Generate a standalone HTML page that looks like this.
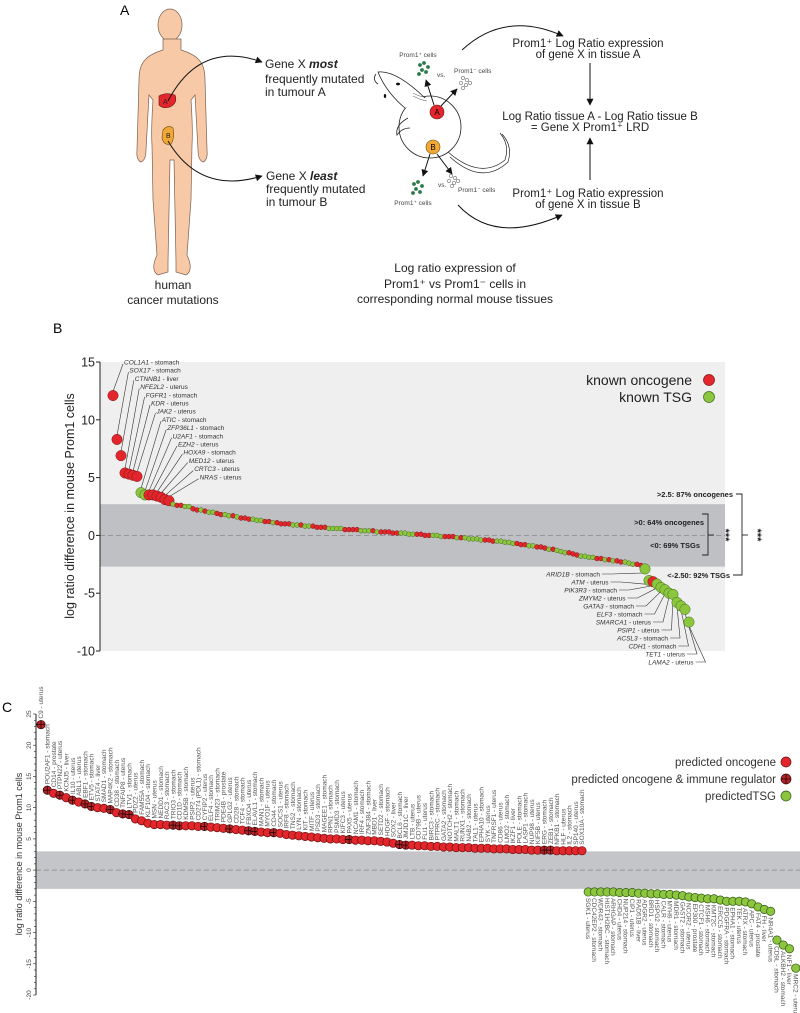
<!DOCTYPE html>
<html><head><meta charset="utf-8"><style>
html,body{margin:0;padding:0;background:#fff;width:800px;height:1013px;overflow:hidden}
svg{display:block;font-family:"Liberation Sans",Arial,sans-serif}
</style></head><body>
<svg id="fig" width="800" height="1013" viewBox="0 0 800 1013" xmlns="http://www.w3.org/2000/svg">
<defs>
<marker id="ah" viewBox="0 0 10 10" refX="9" refY="5" markerWidth="7" markerHeight="7" orient="auto"><path d="M0,0 L10,5 L0,10 z" fill="#111"/></marker>
</defs>
<g>
<text x="120" y="15" font-size="14">A</text>
<g>
<ellipse cx="170" cy="25" rx="12" ry="16" fill="#f7c9a6" stroke="#7a6050" stroke-width="0.7"/>
<path d="M163,39 L163,50 Q150,54 145,60 Q139,66 139,80 L137,150 Q136,160 141,162 Q146,160 146,150 L149,95 L153,100 Q151,130 152,145 L153,200 L157,255 Q150,270 158,275 L168,272 L168,262 L170,160 L174,160 L176,262 L176,272 L186,275 Q194,270 187,255 L191,200 L192,145 Q193,130 191,100 L195,95 L198,150 Q198,160 203,162 Q208,160 207,150 L205,80 Q205,66 199,60 Q194,54 181,50 L181,39 Z" fill="#f7c9a6" stroke="#7a6050" stroke-width="0.7"/>
<path d="M159,96 Q166,92 175,95 Q178,103 170,107 Q163,109 159,105 Z" fill="#e3262b" stroke="#6b1515" stroke-width="0.6"/>
<text x="163" y="104" font-size="7" fill="#222">A</text>
<path d="M163,130 Q168,124 173,128 Q175,138 171,144 Q164,146 162,138 Z" fill="#f1a834" stroke="#6b4a10" stroke-width="0.6"/>
<text x="166" y="138" font-size="7" fill="#222">B</text>
</g>
<path d="M168,101 Q200,40 262,62" fill="none" stroke="#111" stroke-width="1" marker-end="url(#ah)"/>
<path d="M168,141 Q200,195 262,176" fill="none" stroke="#111" stroke-width="1" marker-end="url(#ah)"/>
<g font-size="12" fill="#222">
<text x="265" y="68">Gene X <tspan font-weight="bold" font-style="italic">most</tspan></text>
<text x="265" y="83">frequently mutated</text>
<text x="265" y="96">in tumour A</text>
</g>
<g font-size="12" fill="#222">
<text x="266" y="180">Gene X <tspan font-weight="bold" font-style="italic">least</tspan></text>
<text x="266" y="193">frequently mutated</text>
<text x="266" y="206">in tumour B</text>
</g>
<g font-size="12" fill="#222" text-anchor="middle">
<text x="173" y="289">human</text>
<text x="173" y="304">cancer mutations</text>
</g>
<g fill="none" stroke="#222" stroke-width="0.8">
<circle cx="430" cy="127" r="31" fill="#fff"/>
<path d="M405,108 Q386,92 378,72 Q396,70 425,98" fill="#fff"/>
<path d="M376,74 Q372,80 378,84" />
<path d="M408,118 Q395,125 397,135 Q402,128 410,128"/>
<path d="M413,96 Q420,100 427,101 M413,93 Q420,97 426,97" stroke-width="0.4"/>
<path d="M448,152 Q480,180 505,160 Q510,145 500,133 M450,157 Q482,186 508,162 Q513,146 502,134" stroke-width="0.7"/>
<ellipse cx="398" cy="84" rx="2" ry="1.4" fill="#111" stroke="none"/>
<ellipse cx="385" cy="96" rx="1.2" ry="2" fill="#111" stroke="none"/>
</g>
<circle cx="437" cy="112" r="7" fill="#e3262b" stroke="#6b1515" stroke-width="0.6"/>
<text x="437" y="115" font-size="8" text-anchor="middle">A</text>
<circle cx="433" cy="147" r="7" fill="#f1a834" stroke="#6b4a10" stroke-width="0.6"/>
<text x="433" y="150" font-size="8" text-anchor="middle">B</text>
<g stroke="#111" stroke-width="1" marker-end="url(#ah)">
<line x1="434" y1="105" x2="426" y2="80"/><line x1="441" y1="106" x2="457" y2="89"/>
<line x1="430" y1="154" x2="423" y2="176"/><line x1="437" y1="154" x2="452" y2="174"/>
</g>
<g fill="#2a7a4a">
<circle cx="420" cy="65" r="1.9"/><circle cx="424" cy="63" r="1.9"/><circle cx="428" cy="67" r="1.9"/><circle cx="422" cy="70" r="1.9"/><circle cx="426" cy="72" r="1.9"/><circle cx="419" cy="74" r="1.9"/>
</g>
<g fill="#2a7a4a">
<circle cx="414" cy="184" r="1.9"/><circle cx="418" cy="182" r="1.9"/><circle cx="422" cy="186" r="1.9"/><circle cx="416" cy="189" r="1.9"/><circle cx="420" cy="192" r="1.9"/><circle cx="413" cy="193" r="1.9"/>
</g>
<g fill="#fff" stroke="#444" stroke-width="0.5">
<circle cx="463" cy="78" r="1.7"/><circle cx="467" cy="80" r="1.7"/><circle cx="461" cy="83" r="1.7"/><circle cx="466" cy="85" r="1.7"/><circle cx="470" cy="83" r="1.7"/><circle cx="463" cy="88" r="1.7"/>
<circle cx="451" cy="176" r="1.7"/><circle cx="455" cy="178" r="1.7"/><circle cx="449" cy="181" r="1.7"/><circle cx="454" cy="183" r="1.7"/><circle cx="458" cy="181" r="1.7"/><circle cx="452" cy="186" r="1.7"/>
</g>
<g font-size="6.5" fill="#444">
<text x="418" y="57" text-anchor="middle">Prom1⁺ cells</text>
<text x="437" y="77">vs.</text>
<text x="454" y="73">Prom1⁻ cells</text>
<text x="413" y="205" text-anchor="middle">Prom1⁺ cells</text>
<text x="438" y="187">vs.</text>
<text x="458" y="192">Prom1⁻ cells</text>
</g>
<path d="M462,50 Q505,10 563,36" fill="none" stroke="#111" stroke-width="1" marker-end="url(#ah)"/>
<path d="M458,205 Q495,245 562,215" fill="none" stroke="#111" stroke-width="1" marker-end="url(#ah)"/>
<g font-size="11.5" fill="#222" text-anchor="middle">
<text x="588" y="47">Prom1⁺ Log Ratio expression</text>
<text x="588" y="58">of gene X in tissue A</text>
<text x="600" y="120">Log Ratio tissue A - Log Ratio tissue B</text>
<text x="590" y="131">= Gene X Prom1⁺ LRD</text>
<text x="588" y="197">Prom1⁺ Log Ratio expression</text>
<text x="588" y="208">of gene X in tissue B</text>
</g>
<line x1="590" y1="63" x2="590" y2="105" stroke="#111" stroke-width="1" marker-end="url(#ah)"/>
<line x1="590" y1="180" x2="590" y2="138" stroke="#111" stroke-width="1" marker-end="url(#ah)"/>
<g font-size="12" fill="#222" text-anchor="middle">
<text x="455" y="272">Log ratio expression of</text>
<text x="455" y="288">Prom1⁺ vs Prom1⁻ cells in</text>
<text x="455" y="303">corresponding normal mouse tissues</text>
</g>
</g>
<g id="panelB">
<text x="53" y="333" font-size="14">B</text>
</g>
<g id="panelC">
<text x="2" y="712" font-size="14">C</text>
</g>
</svg>
<script>
const NS='http://www.w3.org/2000/svg';
// ---- Panel B data ----
const bTopValues=[12.1,8.3,6.9,5.4,5.3,5.2,5.1,3.7,3.5,3.5,3.5,3.4,3.3,3.1,3.0];
const bTopTypes=['r','r','r','r','r','r','r','g','g','r','r','r','r','r','r'];
const bTopLabels=['COL1A1|stomach','SOX17|stomach','CTNNB1|liver','NFE2L2|uterus','FGFR1|stomach','KDR|uterus','JAK2|uterus','ATIC|stomach','ZFP36L1|stomach','U2AF1|stomach','EZH2|uterus','HOXA9|stomach','MED12|uterus','CRTC3|uterus','NRAS|uterus'];
const bMidValues=[2.7,2.6,2.6,2.5,2.5,
2.3,2.2,2.2,2.1,2.0,2.0,1.9,1.8,1.8,1.7,1.7,1.6,
1.5,1.5,1.4,1.4,1.3,1.3,1.2,1.2,1.1,1.1,1.0,1.0,1.0,0.9,0.9,0.9,0.8,0.8,0.8,0.7,0.7,0.7,0.6,
0.6,0.6,0.6,0.5,0.5,0.5,0.5,0.4,0.4,0.4,0.4,0.3,0.3,0.3,0.3,0.2,0.2,0.2,0.2,0.1,0.1,0.1,0.1,
0.0,0.0,0.0,0.0,-0.1,-0.1,-0.1,-0.1,-0.2,-0.2,-0.2,
-0.3,-0.3,-0.3,-0.4,-0.4,-0.4,-0.5,-0.5,-0.5,-0.6,-0.6,
-0.7,-0.7,-0.8,-0.8,-0.9,-0.9,-1.0,-1.0,-1.1,-1.2,-1.2,-1.3,
-1.4,-1.5,-1.5,-1.6,-1.7,-1.8,-1.8,-1.9,-1.9,-2.0,-2.0,
-2.1,-2.1,-2.2,-2.2,-2.3,-2.3,-2.4,-2.5,-2.5,-2.6];
const bMidTypes='grrggrrgrggrrggrgrrrgggrrgrrrrggrggrrrrggggrrrrgggrgrrrrrggggrrrrgggrrrgrgggggrrrgggggrrrggrrrgrgggrrrggggrrgrgrrgggrrg'.split('');
const bBotValues=[-2.9,-3.9,-4.0,-4.2,-4.5,-4.7,-5.0,-5.1,-5.8,-6.1,-6.4,-7.5];
const bBotTypes=['g','g','r','g','g','g','g','g','g','g','g','g'];
const bBotLabels=['ARID1B|stomach','ATM|uterus','PIK3R3|stomach','ZMYM2|uterus','GATA3|stomach','ELF3|stomach','SMARCA1|uterus','PSIP1|uterus','ACSL3|stomach','CDH1|stomach','TET1|uterus','LAMA2|uterus'];
const bTicks=[15,10,5,0,-5,-10];
// ---- Panel C data ----
const cTopValue=[23.3];
const cRedValues=[12.8,12.3,12.0,11.6,11.2,10.9,10.6,10.2,10.0,9.9,9.7,9.2,9.0,8.9,8.2,7.9,7.5,7.3,
7.3,7.2,7.2,7.1,7.1,7.1,7.0,7.0,6.9,6.8,6.7,6.6,6.5,6.4,6.3,6.2,6.1,6.0,6.0,5.9,
5.7,5.6,5.5,5.4,5.3,5.2,5.1,5.0,5.0,4.9,4.9,4.8,4.8,4.7,4.7,4.6,4.5,4.3,
4.1,4.0,4.0,3.9,3.9,3.8,3.8,3.7,3.7,3.6,3.6,3.6,3.5,3.5,
3.5,3.4,3.4,3.4,3.3,3.3,3.3,3.2,3.2,3.2,3.2,3.1,3.1,3.1,3.1,3.1];
const cImmune=[0,2,4,6,7,10,12,13,20,21,25,29,32,33,36,48,56,57,79,80];
const cGreenValues=[-3.5,-3.5,-3.5,-3.5,-3.5,-3.6,-3.6,-3.6,-3.7,-3.7,-3.8,-3.8,-3.9,-3.9,-4.0,-4.1,-4.3,-4.4,-4.5,-4.6,-4.6,-4.8,-5.0,-5.0,-5.0,-5.1,-5.4,-5.9,-6.3,-6.6,-11.2,-12.0,-12.6,-15.7];
const cTicks=[25,20,15,10,5,0,-5,-10,-15,-20];
const cRedNames=['POU2AF1 - stomach','CD14 - prostate','PTPN22 - uterus','KCNJ5 - liver','IL10 - uterus','ABL1 - uterus','EBF1 - stomach','ETV5 - stomach','STAT4 - liver','SMAD1 - stomach','MAP4K2 - stomach','CD38 - stomach','TNFAIP8 - uterus','LTV1 - stomach','PDZ2 - uterus','FAM55A - stomach','KLF104 - stomach','MSN - uterus','NEDD1 - stomach','RAC3 - stomach','TRIO3 - stomach','CD1D - stomach','KDM5B - stomach','PSIP2 - uterus','CD274 (PDL1) - stomach','CYFIP2 - uterus','ELF4 - stomach','TRIM23 - stomach','PDE4B - prostate','GPLG2 - uterus','CD28 - stomach','TCF4 - stomach','FBXO4 - uterus','ELAVL1 - stomach','MAN1 - stomach','MYO1F - uterus','CD44 - stomach','SOCS1 - uterus','IRF8 - stomach','TNS2 - stomach','LYN - stomach','KIT - stomach','MITF - uterus','PSD3 - stomach','MAGEE1 - stomach','RPN1 - stomach','PSMD3 - stomach','KIFC3 - uterus','PAX5 - uterus','NCAM1 - stomach','IRF4 - stomach','ZNF384 - stomach','MBD1 - liver','SETD2 - stomach','HDGF - stomach','SOX2 - liver','BCL6 - stomach','JMJD1C - liver','LTB - uterus','CD79B - uterus','FLI1 - uterus','BIRC3 - stomach','PTPRC - stomach','GATA2 - stomach','NOTCH2 - stomach','MALT1 - stomach','RUNX1 - stomach','NAB2 - stomach','TAL1 - uterus','EPHA10 - stomach','SYK - uterus','TNFRSF1 - uterus','CD86 - uterus','LMO2 - stomach','IKZF1 - liver','POLE - stomach','LASP1 - stomach','NUP98 - uterus','KIF5B - uterus','ERG - stomach','ZEB1 - stomach','NFKB1 - stomach','HLF - uterus','IL2 - stomach','SP140 - uterus','SOX10A - stomach'];
const cGreenNames=['SGK1 - uterus','CDC42EP2 - stomach','WDR43 - stomach','HIST1H2BC - stomach','ARHGAP - stomach','CHD4 - uterus','NUP214 - stomach','CIP1 - uterus','RAD51B - liver','ADGR2 - uterus','BRD1 - stomach','HSPG2 - stomach','CALR - stomach','MYH9 - uterus','MDR1 - stomach','GAST2 - stomach','NCOR2 - uterus','EP300 - prostate','CTCF1 - stomach','MSH6 - stomach','KMT2C - stomach','ERCC5 - stomach','PDGFRA - stomach','EPHA1 - stomach','TEK - uterus','ATRX - stomach','APC - uterus','FAT4 - prostate','FH - liver','NR4A1 - uterus','CD9L - stomach','ALKBH2 - stomach','NF1 - liver','MRC2 - uterus'];

const svg=document.getElementById('fig');
const gB=document.getElementById('panelB');
const gC=document.getElementById('panelC');
function mk(tag,attrs,parent){const e=document.createElementNS(NS,tag);for(const k in attrs)e.setAttribute(k,attrs[k]);(parent||svg).appendChild(e);return e;}

// ---- Panel B ----
const B={x0:100,x1:725,yTop:362,yBot:651,vTop:15,vBot:-10};
function yB(v){return B.yTop+(B.vTop-v)*(B.yBot-B.yTop)/(B.vTop-B.vBot);}
const bAll=[].concat(bTopValues,bMidValues,bBotValues);
const bStep=4.0, bX0=113;
function xB(i){return bX0+i*bStep;}
let r=mk('rect',{x:B.x0,y:B.yTop,width:B.x1-B.x0,height:B.yBot-B.yTop,fill:'#efefef'},gB);


r=mk('rect',{x:B.x0,y:yB(2.7),width:B.x1-B.x0,height:yB(-2.7)-yB(2.7),fill:'#bfc0c4'},gB);


r=mk('line',{x1:B.x0,x2:B.x1,y1:yB(0),y2:yB(0),stroke:'#888','stroke-dasharray':'5,3','stroke-width':0.8},gB);


r=mk('line',{x1:B.x0,x2:B.x0,y1:B.yTop,y2:B.yBot,stroke:'#222','stroke-width':1},gB);


bTicks.forEach(t=>{
  const l=mk('line',{x1:B.x0-4,x2:B.x0,y1:yB(t),y2:yB(t),stroke:'#222'},gB);
  
  
  const tx=mk('text',{x:B.x0-5,y:yB(t)+4.5,'text-anchor':'end','font-size':12.5,fill:'#222'},gB);
  tx.textContent=t;
  
  
});
let yt=mk('text',{x:0,y:0,'font-size':12.5,fill:'#222','text-anchor':'middle',transform:'translate(74,506) rotate(-90)'},gB);
yt.textContent='log ratio difference in mouse Prom1 cells';


bTopLabels.forEach((lab,i)=>{
  const [g,t]=lab.split('|');
  const lx=124+i*5.4, ly=362+i*8.2;
  const px=xB(i), py=yB(bTopValues[i]);
  const ln=mk('line',{x1:lx-1,y1:ly+2,x2:px,y2:py-4,stroke:'#333','stroke-width':0.6},gB);
  
  
  const tx=mk('text',{x:lx,y:ly+2.5,'font-size':6.5,fill:'#333'},gB);
  tx.innerHTML='<tspan font-style="italic">'+g+'</tspan> - '+t;
  
  
});
const bBotStart=bTopValues.length+bMidValues.length;
bBotLabels.forEach((lab,i)=>{
  const [g,t]=lab.split('|');
  const rx=600+i*8.5, ry=574+i*8.0;
  const px=xB(bBotStart+i), py=yB(bBotValues[i]);
  const ln=mk('polyline',{points:(rx+2)+','+(ry)+' '+(rx+12)+','+ry+' '+px+','+(py+4),fill:'none',stroke:'#333','stroke-width':0.6},gB);
  
  
  const tx=mk('text',{x:rx,y:ry+2.5,'font-size':6.5,fill:'#333','text-anchor':'end'},gB);
  tx.innerHTML='<tspan font-style="italic">'+g+'</tspan> - '+t;
  
  
});
const colR={fill:'#e3262b',stroke:'#7a1414'}, colG={fill:'#8cc63f',stroke:'#3d6a18'};
function bType(i){ if(i<bTopValues.length)return bTopTypes[i]; if(i<bBotStart)return bMidTypes[(i-bTopValues.length)%bMidTypes.length]; return bBotTypes[i-bBotStart]; }
bAll.forEach((v,i)=>{
  const big=(i<bTopValues.length)||(i>=bBotStart);
  const c=bType(i)==='r'?colR:colG;
  const ci=mk('circle',{cx:xB(i),cy:yB(v),r:big?5.2:2.4,fill:c.fill,stroke:c.stroke,'stroke-width':0.5},gB);
  
  
});
[['known oncogene',colR,380],['known TSG',colG,397]].forEach(([t,c,y])=>{
  const tx=mk('text',{x:692,y:y+5,'font-size':14,fill:'#222','text-anchor':'end'},gB);
  tx.textContent=t;
  
  
  const ci=mk('circle',{cx:709,cy:y,r:5.5,fill:c.fill,stroke:c.stroke,'stroke-width':0.7},gB);
  
  
});
[['>2.5: 87% oncogenes',733,497],['>0: 64% oncogenes',704,525],['<0: 69% TSGs',700,548],['<-2.50: 92% TSGs',730,578]].forEach(([t,x,y])=>{
  const tx=mk('text',{x:x,y:y,'font-size':7.5,'font-weight':'bold',fill:'#222','text-anchor':'end'},gB);
  tx.textContent=t;
  
  
});
let br=mk('polyline',{points:'736,494 742,494 742,575 733,575',fill:'none',stroke:'#222','stroke-width':0.9},gB);


br=mk('polyline',{points:'702,514 708,514 708,555 702,555',fill:'none',stroke:'#222','stroke-width':0.9},gB);


mk('line',{x1:708,x2:714,y1:535,y2:535,stroke:'#222','stroke-width':0.9},gB);
mk('line',{x1:742,x2:748,y1:535,y2:535,stroke:'#222','stroke-width':0.9},gB);
[[722,535],[754,535]].forEach(([x,y])=>{
  const tx=mk('text',{x:0,y:0,'font-size':11,'font-weight':'bold',fill:'#222','text-anchor':'middle',transform:'translate('+x+','+y+') rotate(90)'},gB);
  tx.textContent='***';
  
  
});

// ---- Panel C ----
const C={x0:36,x1:800,yTop:714,yBot:995,vTop:25,vBot:-20};
function yC(v){return C.yTop+(C.vTop-v)*(C.yBot-C.yTop)/(C.vTop-C.vBot);}
const cStep=6.29, cX0=41;
function xC(i){return cX0+i*cStep;}
r=mk('rect',{x:C.x0,y:yC(3),width:C.x1-C.x0,height:yC(-3)-yC(3),fill:'#c4c5c8'},gC);


r=mk('line',{x1:C.x0,x2:C.x1,y1:yC(0),y2:yC(0),stroke:'#888','stroke-dasharray':'5,3','stroke-width':0.8},gC);


r=mk('line',{x1:C.x0,x2:C.x0,y1:C.yTop,y2:C.yBot,stroke:'#222','stroke-width':1},gC);


for(let t=25;t>=-20;t-=1){
  const major=cTicks.includes(t);
  const l=mk('line',{x1:C.x0-(major?3:2),x2:C.x0,y1:yC(t),y2:yC(t),stroke:'#222','stroke-width':0.6},gC);
  
  
}
cTicks.forEach(t=>{
  const tx=mk('text',{x:0,y:0,'font-size':6.5,fill:'#444','text-anchor':'middle',transform:'translate(31,'+yC(t)+') rotate(-90)'},gC);
  tx.textContent=t;
  
  
});
yt=mk('text',{x:0,y:0,'font-size':9,fill:'#333','text-anchor':'middle',transform:'translate(22,854) rotate(-90)'},gC);
yt.textContent='log ratio difference in mouse Prom1 cells';


function immuneDot(cx,cy,rr,parent){
  const ci=mk('circle',{cx:cx,cy:cy,r:rr,fill:'#b3232a',stroke:'#3a0808','stroke-width':0.7},parent);
  mk('line',{x1:cx-rr,x2:cx+rr,y1:cy,y2:cy,stroke:'#2a0505','stroke-width':0.8},parent);
  mk('line',{x1:cx,x2:cx,y1:cy-rr,y2:cy+rr,stroke:'#2a0505','stroke-width':0.8},parent);
  return ci;
}
let tx=mk('text',{x:0,y:0,'font-size':6.5,fill:'#555',transform:'translate('+(xC(0)+2)+','+(yC(cTopValue[0])-6)+') rotate(-90)'},gC);
tx.textContent='C9 - uterus';


let dot=immuneDot(xC(0),yC(cTopValue[0]),4.2,gC);


cRedValues.forEach((v,j)=>{
  const i=j+1;
  const t=mk('text',{x:0,y:0,'font-size':6.5,fill:'#555',transform:'translate('+(xC(i)+2.3)+','+(yC(v)-6)+') rotate(-90)'},gC);
  t.textContent=cRedNames[j%cRedNames.length];
  
  
});
cGreenValues.forEach((v,j)=>{
  const i=j+1+cRedValues.length;
  const t=mk('text',{x:0,y:0,'font-size':6.5,fill:'#555',transform:'translate('+(xC(i)-2.3)+','+(yC(v)+6)+') rotate(90)'},gC);
  t.textContent=cGreenNames[j%cGreenNames.length];
  
  
});
cRedValues.forEach((v,j)=>{
  const i=j+1;
  let d;
  if(cImmune.includes(j)){ d=immuneDot(xC(i),yC(v),4.2,gC);  }
  else { d=mk('circle',{cx:xC(i),cy:yC(v),r:4.2,fill:'#e3262b',stroke:'#6b1010','stroke-width':0.7},gC);  }
  
});
cGreenValues.forEach((v,j)=>{
  const i=j+1+cRedValues.length;
  const d=mk('circle',{cx:xC(i),cy:yC(v),r:4.2,fill:'#8cc63f',stroke:'#2f5512','stroke-width':0.7},gC);
  
  
});
[['predicted oncogene',762,'r'],['predicted oncogene & immune regulator',779,'i'],['predictedTSG',796,'g']].forEach(([t,y,k])=>{
  const e=mk('text',{x:776,y:y+4,'font-size':11.5,fill:'#333','text-anchor':'end'},gC);
  e.textContent=t;
  
  
  let m;
  if(k==='i') m=immuneDot(786,y,5,gC);
  else m=mk('circle',{cx:786,cy:y,r:5,fill:k==='r'?'#e3262b':'#8cc63f',stroke:k==='r'?'#6b1010':'#2f5512','stroke-width':0.7},gC);
  
  
});
</script>
</body></html>
